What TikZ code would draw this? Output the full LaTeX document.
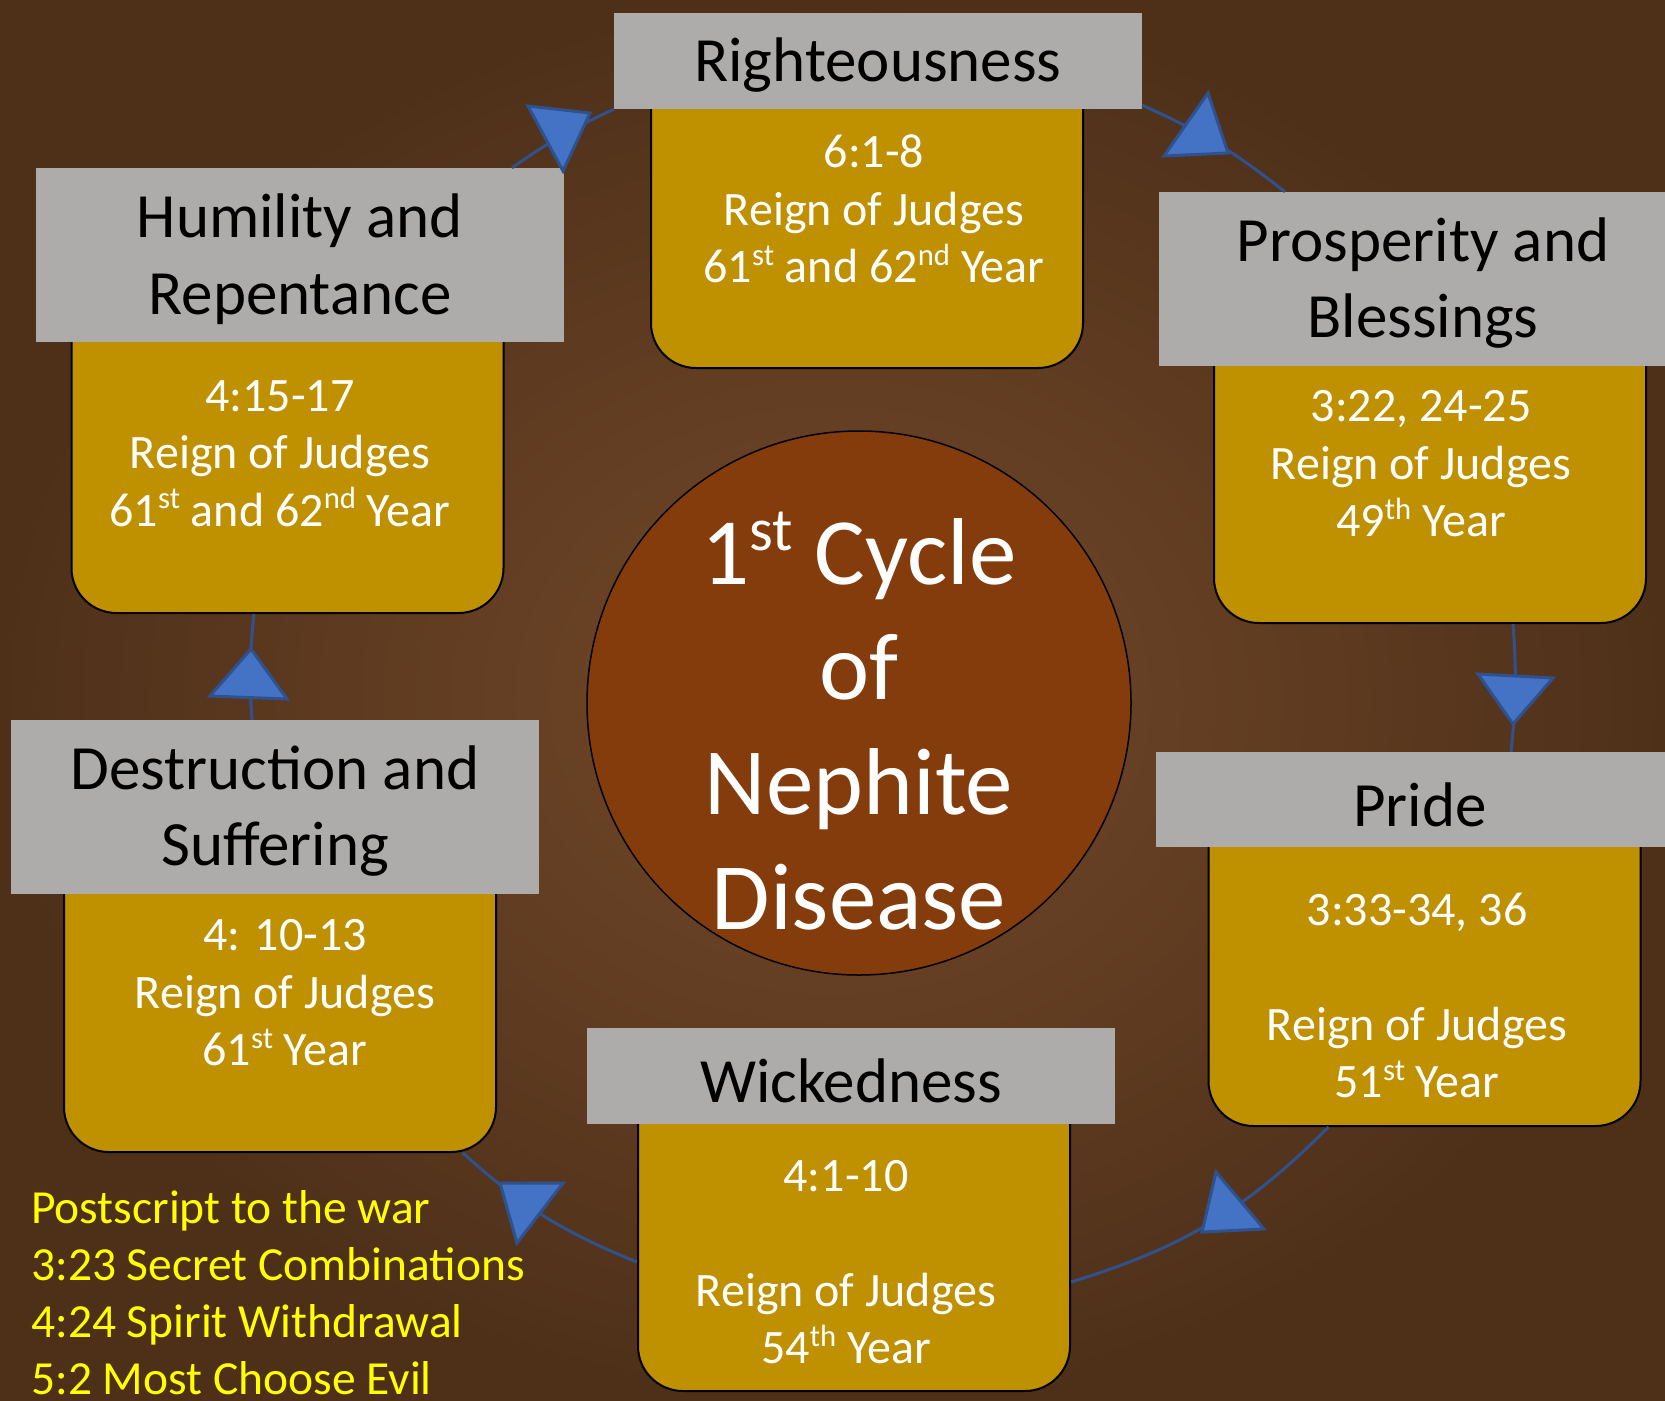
\documentclass[tikz,border=0pt]{standalone}
\usepackage{fontspec}
\usepackage{graphicx}
\setmainfont{Carlito}
\usetikzlibrary{calc}
\definecolor{gold}{HTML}{BF9000}
\definecolor{hdr}{HTML}{AEABAB}
\definecolor{disc}{HTML}{843C0C}
\definecolor{arrfill}{HTML}{4472C4}
\definecolor{arredge}{HTML}{2F528F}
\definecolor{bgin}{HTML}{74492A}
\definecolor{bgout}{HTML}{4E3019}
\definecolor{ps}{HTML}{FFFF00}
\newcommand{\sus}[1]{\raisebox{0.36em}{\scalebox{0.64}{#1}}}
\begin{document}
\begin{tikzpicture}[x=1pt,y=-1pt,
  goldbox/.style={draw=black, line width=2pt, fill=gold, rounded corners=45pt, inner sep=0pt, minimum width=432pt},
  hdrbox/.style={fill=hdr, inner sep=0pt, minimum width=528pt},
  hdrtext/.style={font=\fontsize{63}{76.5}\selectfont, text=black, align=center, inner sep=0pt},
  goldtext/.style={font=\fontsize{48}{57.5}\selectfont, text=white, align=center, inner sep=0pt},
  conn/.style={draw=arredge, line width=3pt},
  tri/.style={fill=arrfill, draw=arredge, line width=3pt, line join=miter}]
\useasboundingbox (0,0) rectangle (1665,1400);
\shade[inner color=bgin, outer color=bgout] (0,0) rectangle (1665,1400);

% gold boxes
\node[goldbox, minimum height=328pt] (rg) at (867,204) {};
\node[goldbox, minimum height=333pt] (hg) at (287.5,446.5) {};
\node[goldbox, minimum height=323pt] (pg) at (1430,461.5) {};
\node[goldbox, minimum height=336pt] (prg) at (1424.5,958) {};
\node[goldbox, minimum height=321pt] (wg) at (854,1230.5) {};
\node[goldbox, minimum height=312pt] (dg) at (280,996) {};

% header boxes
\node[hdrbox, minimum height=96pt] (rh) at (878,61) {};
\node[hdrbox, minimum height=174pt] (hh) at (300,255) {};
\node[hdrbox, minimum height=174pt] (ph) at (1423,279) {};
\node[hdrbox, minimum height=95pt] (prh) at (1420,799.5) {};
\node[hdrbox, minimum height=96pt] (wh) at (851,1076) {};
\node[hdrbox, minimum height=174pt] (dh) at (274.5,807) {};

% centre disc
\node[circle, draw=black, line width=1.5pt, fill=disc, minimum size=544pt, inner sep=0pt] (disc) at (859,703) {};
\node[font=\fontsize{95}{115}\selectfont, text=white, align=center, inner sep=0pt] (disctext) at (859,721) {1\sus{st} Cycle\\of\\Nephite\\Disease};

% header texts
\node[hdrtext] (rht) at (878,65) {Righteousness};
\node[hdrtext] (hht) at (300,259) {Humility and\\Repentance};
\node[hdrtext] (pht) at (1423,283) {Prosperity and\\Blessings};
\node[hdrtext] (prht) at (1420,805) {Pride};
\node[hdrtext] (wht) at (851,1081) {Wickedness};
\node[hdrtext] (dht) at (275,811) {Destruction and\\Suffering};

% gold texts
\node[goldtext] (rgt) at (874,209) {6:1-8\\Reign of Judges\\61\sus{st} and 62\sus{nd} Year};
\node[goldtext] (hgt) at (280,453.5) {4:15-17\\Reign of Judges\\61\sus{st} and 62\sus{nd} Year};
\node[goldtext] (pgt) at (1421,464) {3:22, 24-25\\Reign of Judges\\49\sus{th} Year};
\node[goldtext] (prgt) at (1417,995.5) {3:33-34, 36\\[57.5pt]Reign of Judges\\51\sus{st} Year};
\node[goldtext] (wgt) at (846,1262) {4:1-10\\[57.5pt]Reign of Judges\\54\sus{th} Year};
\node[goldtext] (dgt) at (285,993) {4: 10-13\\Reign of Judges\\61\sus{st} Year};

% postscript
\node[font=\fontsize{47.5}{57}\selectfont, text=ps, align=left, anchor=west, inner sep=0pt] (post) at (31,1293) {Postscript to the war\\3:23 Secret Combinations\\4:24 Spirit Withdrawal\\5:2 Most Choose Evil};

% connectors
\draw[conn] ([xshift=212pt]hh.north) to[bend left=5] (rh.south west);
\draw[conn] ([yshift=4pt]rh.south east) to[bend left=7] ([xshift=-138pt]ph.north);
\draw[conn] ([xshift=83pt]pg.south) to[bend left=5] ([xshift=91pt]prh.north);
\draw[conn] ([xshift=-96pt]prg.south) to[bend left=14] ([yshift=-51.5pt]wg.east);
\draw[conn] ([yshift=-31.5pt]wg.west) to[bend left=10] ([xshift=183pt]dg.south);
\draw[conn] ([xshift=-22.5pt]dh.north) to[bend left=5] ([xshift=-33.5pt]hg.south);

% arrow triangles
\draw[tri] (528,106) -- (590,113) -- (563,171) -- cycle;
\draw[tri] (1208,93) -- (1164,156) -- (1228,153) -- cycle;
\draw[tri] (1478,674) -- (1553,678) -- (1513,724) -- cycle;
\draw[tri] (1216,1172) -- (1202,1232) -- (1264,1229) -- cycle;
\draw[tri] (500,1183) -- (563,1183) -- (517,1243) -- cycle;
\draw[tri] (251,649) -- (210,696) -- (287,699) -- cycle;
\end{tikzpicture}
\end{document}
